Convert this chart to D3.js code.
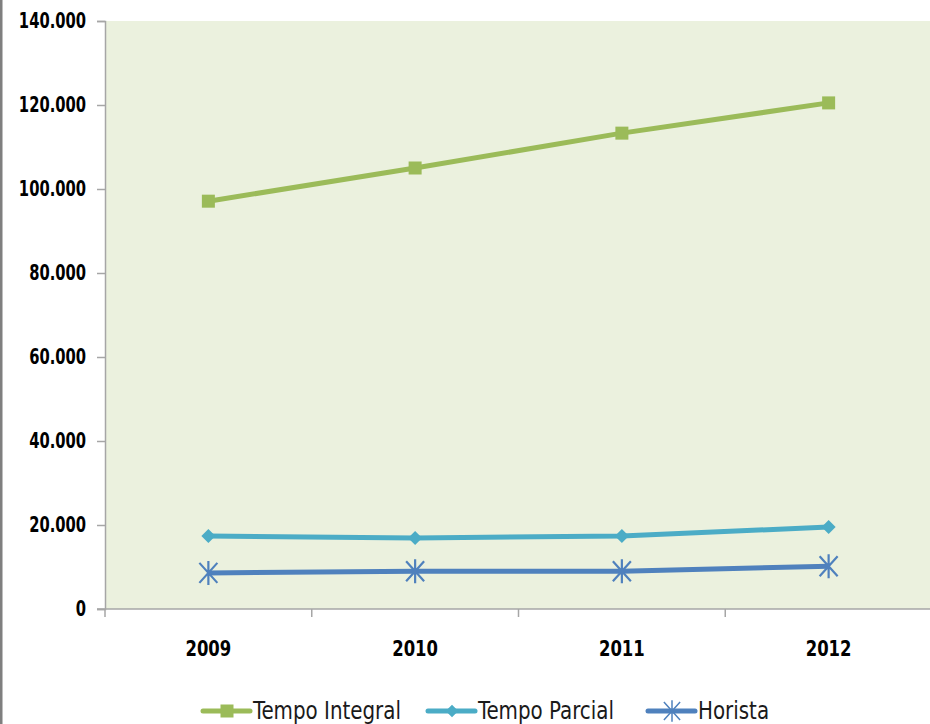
<!DOCTYPE html>
<html>
<head>
<meta charset="utf-8">
<script src="https://cdn.jsdelivr.net/npm/d3@7"></script>
<style>
  body { margin: 0; background: #fff; }
  svg { display: block; }
</style>
</head>
<body>
<div id="chart"></div>
<script>
// Chart data
const years = ["2009", "2010", "2011", "2012"];
const tempoIntegral = [97100, 105000, 113300, 120500];
const tempoParcial = [17400, 16900, 17400, 19500];
const horista = [8600, 9000, 9000, 10200];
const yTicks = [0, 20000, 40000, 60000, 80000, 100000, 120000, 140000];

const width = 930;
const height = 724;
const margin = {left: 105, right: 0, top: 21, bottom: 115};
const font = "'DejaVu Sans Condensed', 'DejaVu Sans', sans-serif";

const series = [
  {name: "Tempo Integral", values: tempoIntegral, color: "#9bbb59", marker: "square"},
  {name: "Tempo Parcial", values: tempoParcial, color: "#4bacc6", marker: "diamond"},
  {name: "Horista", values: horista, color: "#4f81bd", marker: "star"}
];

// squeeze text horizontally so it looks like the narrow original font
function squeeze(sel, factor) {
  sel.each(function() {
    const w = this.getComputedTextLength();
    d3.select(this)
      .attr("textLength", w * factor)
      .attr("lengthAdjust", "spacingAndGlyphs");
  });
}

const svg = d3.select("#chart")
  .append("svg")
  .attr("width", width)
  .attr("height", height);

// page border on the left
svg.append("rect")
  .attr("x", 0).attr("y", 0)
  .attr("width", 2.5).attr("height", height)
  .attr("fill", "#7f7f7f");

// Scales
const xScale = d3.scaleBand()
  .domain(years)
  .range([margin.left, width - margin.right + 2]);

const yScale = d3.scaleLinear()
  .domain([0, 140000])
  .range([height - margin.bottom, margin.top]);

// Plot area background
svg.append("rect")
  .attr("x", margin.left)
  .attr("y", margin.top)
  .attr("width", width - margin.left)
  .attr("height", yScale(0) - margin.top)
  .attr("fill", "#ebf1de");

// Y axis
const yAxis = svg.append("g")
  .attr("transform", `translate(${margin.left},0)`)
  .call(d3.axisLeft(yScale)
    .tickValues(yTicks)
    .tickSize(8)
    .tickPadding(11)
    .tickFormat(d => d === 0 ? "0" : d3.format(",")(d).replace(/,/g, ".")));
yAxis.select(".domain").attr("stroke", "#a6a6a6").attr("stroke-width", 1.5);
yAxis.selectAll(".tick line").attr("stroke", "#a6a6a6").attr("stroke-width", 1.5);
yAxis.selectAll("text")
  .attr("font-family", font)
  .attr("font-size", "21px")
  .attr("font-weight", "bold")
  .attr("fill", "#000")
  .call(squeeze, 0.78);

// X axis (ticks between categories)
const xAxis = svg.append("g")
  .attr("transform", `translate(0,${yScale(0)})`);
xAxis.append("line")
  .attr("x1", margin.left - 8).attr("x2", width)
  .attr("stroke", "#a6a6a6").attr("stroke-width", 1.5);
xAxis.selectAll(".xtick")
  .data(years)
  .enter()
  .append("line")
  .attr("x1", d => xScale(d)).attr("x2", d => xScale(d))
  .attr("y1", 0).attr("y2", 8)
  .attr("stroke", "#a6a6a6").attr("stroke-width", 1.5);
xAxis.selectAll(".xlabel")
  .data(years)
  .enter()
  .append("text")
  .attr("x", d => xScale(d) + xScale.bandwidth() / 2)
  .attr("y", 47)
  .attr("text-anchor", "middle")
  .attr("font-family", font)
  .attr("font-size", "21px")
  .attr("font-weight", "bold")
  .text(d => d)
  .call(squeeze, 0.87);

// Marker drawing helper
function drawMarker(g, type, color, small) {
  const k = small ? 0.9 : 1;
  if (type === "square") {
    g.append("rect").attr("x", -6.5).attr("y", -6.5).attr("width", 13).attr("height", 13).attr("fill", color);
  } else if (type === "diamond") {
    g.append("path").attr("d", `M0,${-7 * k}L${7 * k},0L0,${7 * k}L${-7 * k},0Z`).attr("fill", color);
  } else {
    g.append("path")
      .attr("d", `M${-9 * k},${-10 * k}L${9 * k},${10 * k}M${9 * k},${-10 * k}L${-9 * k},${10 * k}M0,${-12 * k}L0,${12 * k}`)
      .attr("stroke", color).attr("stroke-width", small ? 1.5 : 2.2).attr("fill", "none");
  }
}

const line = d3.line()
  .x((d, i) => xScale(years[i]) + xScale.bandwidth() / 2)
  .y(d => yScale(d));

series.forEach(s => {
  svg.append("path")
    .datum(s.values)
    .attr("d", line)
    .attr("fill", "none")
    .attr("stroke", s.color)
    .attr("stroke-width", 5)
    .attr("stroke-linejoin", "round");
  s.values.forEach((v, i) => {
    const g = svg.append("g")
      .attr("transform", `translate(${xScale(years[i]) + xScale.bandwidth() / 2},${yScale(v)})`);
    drawMarker(g, s.marker, s.color, false);
  });
});

// Legend
const legendX = [203, 428, 648];
const legend = svg.append("g").attr("transform", "translate(0,711)");
series.forEach((s, i) => {
  const g = legend.append("g").attr("transform", `translate(${legendX[i]},0)`);
  g.append("line")
    .attr("x1", 0).attr("x2", 47)
    .attr("stroke", s.color).attr("stroke-width", 5)
    .attr("stroke-linecap", "round");
  drawMarker(g.append("g").attr("transform", "translate(24,0)"), s.marker, s.color, true);
  g.append("text")
    .attr("x", 50)
    .attr("y", 8)
    .attr("font-family", font)
    .attr("font-size", "24px")
    .attr("fill", "#1a1a1a")
    .text(s.name)
    .call(squeeze, 0.92);
});
</script>
</body>
</html>
